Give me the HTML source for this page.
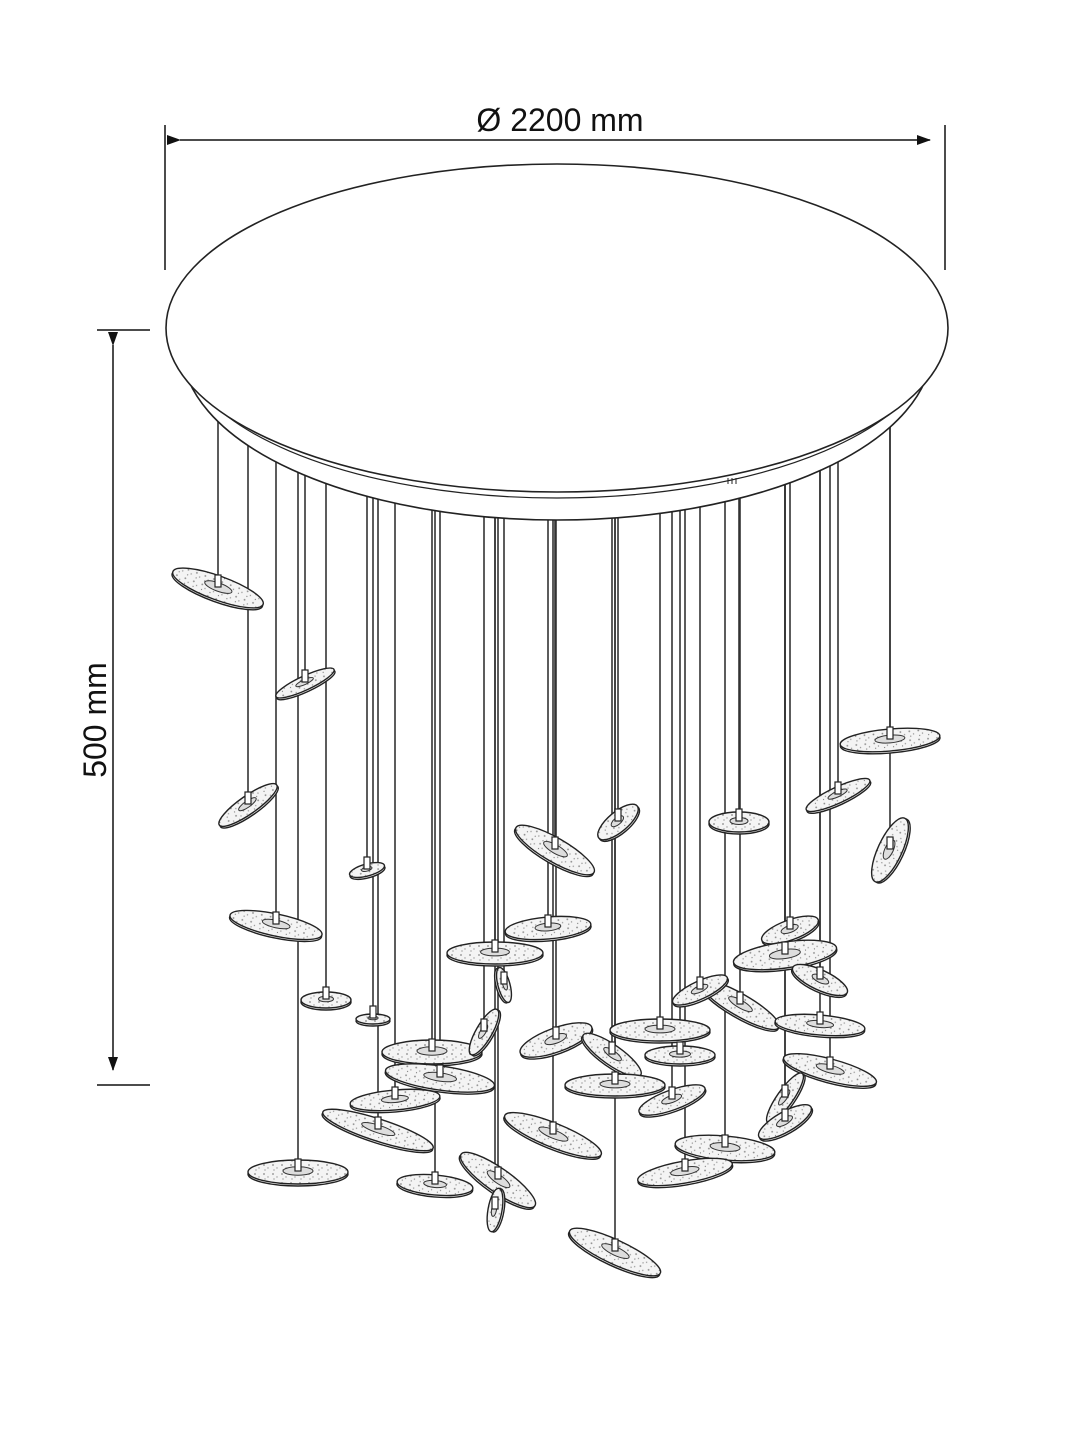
<!DOCTYPE html>
<html><head><meta charset="utf-8"><style>
html,body{margin:0;padding:0;background:#fff;}
svg{display:block;}
text{font-family:"Liberation Sans",sans-serif;fill:#111;}
</style></head><body>
<svg id="s" width="1080" height="1440" viewBox="0 0 1080 1440" xmlns="http://www.w3.org/2000/svg">
<defs>
<pattern id="sp" width="9" height="9" patternUnits="userSpaceOnUse">
<rect width="9" height="9" fill="#f4f4f4"/>
<circle cx="2" cy="2" r="0.9" fill="#888"/><circle cx="6" cy="5" r="0.7" fill="#999"/><circle cx="3" cy="7" r="0.6" fill="#777"/>
</pattern>
<marker id="ar" markerWidth="14" markerHeight="10" refX="13" refY="5" orient="auto" markerUnits="userSpaceOnUse"><path d="M0,0 L14,5 L0,10 z" fill="#111"/></marker>
</defs>
<g id="wires" stroke="#333" stroke-width="1.6"></g>
<g id="canopy" stroke="#222" stroke-width="1.6" fill="#fff">
<ellipse cx="557" cy="348" rx="375" ry="172"/>
<ellipse cx="557" cy="338" rx="378" ry="160" fill="none" stroke-width="1.2"/>
<ellipse cx="557" cy="328" rx="391" ry="164"/>
<path d="M728 484 v-6 M732 484 v-6 M736 484 v-6" stroke-width="1"/>
</g>
<g id="discs"></g>
<g stroke="#111" stroke-width="1.5" fill="none">
<line x1="165" y1="125" x2="165" y2="270"/>
<line x1="945" y1="125" x2="945" y2="270"/>
<line x1="180" y1="140" x2="930" y2="140" marker-end="url(#ar)" marker-start="url(#ar)"/>
<line x1="97" y1="330" x2="150" y2="330"/>
<line x1="97" y1="1085" x2="150" y2="1085"/>
<line x1="113" y1="345" x2="113" y2="1070" marker-end="url(#ar)" marker-start="url(#ar)"/>
</g>
<text x="560" y="131" font-size="32" text-anchor="middle">Ø 2200 mm</text>
<text x="0" y="0" font-size="32" text-anchor="middle" transform="translate(106,720) rotate(-90)">500 mm</text>
</svg>
<script>
var D=[[218,588,48,12,20],[305,683,32,7,-25],[248,805,35,9,-35],[276,925,47,11,12],[326,1000,25,8,0],[367,870,18,6,-15],[373,1019,17,5,0],[298,1172,50,12,0],[555,850,45,12,30],[548,928,43,11,-5],[495,953,48,11,0],[618,822,25,10,-40],[739,822,30,10,0],[890,740,50,11,-5],[838,795,35,8,-25],[890,850,35,12,-65],[790,930,30,10,-20],[785,955,52,13,-8],[820,980,30,10,25],[740,1005,45,11,30],[820,1025,45,10,5],[700,990,30,9,-25],[660,1030,50,11,0],[680,1055,35,9,0],[556,1040,38,12,-20],[612,1055,35,10,35],[615,1085,50,11,0],[672,1100,35,10,-20],[830,1070,48,11,15],[785,1098,30,8,-55],[785,1122,30,10,-30],[725,1148,50,12,5],[685,1172,48,11,-10],[432,1052,50,12,0],[440,1078,55,12,8],[395,1100,45,10,-5],[378,1130,58,11,18],[484,1032,26,8,-60],[504,985,18,6,75],[553,1135,52,12,22],[498,1180,45,12,35],[435,1185,38,10,5],[495,1210,22,7,-80],[615,1252,50,12,25]];
var ns="http://www.w3.org/2000/svg",w=document.getElementById("wires"),d=document.getElementById("discs");
function el(p,t,a){var e=document.createElementNS(ns,t);for(var k in a)e.setAttribute(k,a[k]);p.appendChild(e);return e;}
D.forEach(function(q){
 el(w,"line",{x1:q[0],y1:400,x2:q[0],y2:q[1]-12});
 var g=el(d,"g",{transform:"translate("+q[0]+","+q[1]+") rotate("+q[4]+")"});
 el(g,"ellipse",{cx:0,cy:2,rx:q[2],ry:q[3],fill:"#fff",stroke:"#222","stroke-width":1.4});
 el(g,"ellipse",{cx:0,cy:0,rx:q[2],ry:q[3],fill:"url(#sp)",stroke:"#222","stroke-width":1.4});
 el(g,"ellipse",{cx:0,cy:-1,rx:q[2]*0.3,ry:q[3]*0.35,fill:"#ddd",stroke:"#333","stroke-width":1});
 el(d,"rect",{x:q[0]-3,y:q[1]-13,width:6,height:12,fill:"#fff",stroke:"#222","stroke-width":1.2});
});
</script>
</body></html>
